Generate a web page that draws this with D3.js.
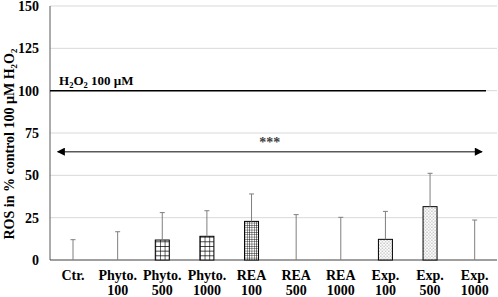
<!DOCTYPE html>
<html>
<head>
<meta charset="utf-8">
<script src="https://cdn.jsdelivr.net/npm/d3@7"></script>
<style>
  body { margin: 0; background: #fff; }
  text { font-family: "Liberation Serif", "Times New Roman", serif; font-weight: bold; }
</style>
</head>
<body>
<div id="chart"></div>
<script>
// data
var labels = ["Ctr.", "Phyto.|100", "Phyto.|500", "Phyto.|1000", "REA|100", "REA|500", "REA|1000", "Exp.|100", "Exp.|500", "Exp.|1000"]
var means = [0, 0, 11.8, 14, 22.8, 0, 0, 12.2, 31.5, 0]
var sds = [12, 16.7, 16.2, 15.1, 16.2, 26.8, 25.2, 16.5, 19.7, 23.6]
var groups = ["ctr", "phyto", "phyto", "phyto", "rea", "rea", "rea", "exp", "exp", "exp"]
var yTicks = [0, 25, 50, 75, 100, 125, 150]
var refValue = 100
var sigLevel = 64

var width = 498, height = 297
var margin = {top: 6, right: 1, bottom: 37, left: 50.7}

var svg = d3.select("#chart").append("svg")
    .attr("width", width)
    .attr("height", height)

var x = d3.scaleBand().domain(labels).range([margin.left, width - margin.right]).padding(0)
var y = d3.scaleLinear().domain([0, 150]).range([height - margin.bottom, margin.top])

var defs = svg.append("defs")
var barW = 14

// gridlines
svg.append("g")
    .selectAll("line")
    .data(yTicks.slice(1))
    .join("line")
    .attr("x1", 50)
    .attr("x2", width - margin.right)
    .attr("y1", d => y(d))
    .attr("y2", d => y(d))
    .attr("stroke", "#d9d9d9")
    .attr("stroke-width", 1)

// y tick labels
svg.append("g")
    .selectAll("text")
    .data(yTicks)
    .join("text")
    .attr("x", 39)
    .attr("y", d => y(d))
    .attr("dy", "0.35em")
    .attr("text-anchor", "end")
    .attr("font-size", "14px")
    .attr("fill", "#000")
    .text(d => d)

// axis lines
svg.append("line")
    .attr("x1", 50).attr("x2", 50)
    .attr("y1", y(150)).attr("y2", y(0))
    .attr("stroke", "#595959")
svg.append("line")
    .attr("x1", 50).attr("x2", width - margin.right)
    .attr("y1", y(0)).attr("y2", y(0))
    .attr("stroke", "#404040")

// 100 uM reference line
svg.append("line")
    .attr("x1", 50).attr("x2", 486)
    .attr("y1", y(refValue)).attr("y2", y(refValue))
    .attr("stroke", "#000")
    .attr("stroke-width", 1.5)

var refLabel = svg.append("text")
    .attr("x", 59)
    .attr("y", y(refValue) - 6)
    .attr("font-size", "13px")
refLabel.append("tspan").text("H")
refLabel.append("tspan").attr("font-size", "8.5px").attr("dy", 3).text("2")
refLabel.append("tspan").attr("dy", -3).text("O")
refLabel.append("tspan").attr("font-size", "8.5px").attr("dy", 3).text("2")
refLabel.append("tspan").attr("dy", -3).text(" 100 \u00b5M")

// patterns, one per bar so they line up with the bar edges
function makePattern(i) {
    var g = groups[i]
    var bx = x(labels[i]) + x.bandwidth() / 2 - barW / 2
    var id = "pat" + i
    if (g == "phyto") {
        var s = barW / 3
        var p = defs.append("pattern").attr("id", id)
            .attr("patternUnits", "userSpaceOnUse")
            .attr("x", bx).attr("y", y(0))
            .attr("width", s).attr("height", s)
        p.append("rect").attr("width", s).attr("height", s).attr("fill", "#fff")
        p.append("path").attr("d", "M0,0H" + s + "M0,0V" + s)
            .attr("stroke", "#000").attr("stroke-width", 1.2)
    } else if (g == "rea") {
        var s2 = barW / 6
        var p2 = defs.append("pattern").attr("id", id)
            .attr("patternUnits", "userSpaceOnUse")
            .attr("x", bx).attr("y", y(0))
            .attr("width", s2).attr("height", s2)
        p2.append("rect").attr("width", s2).attr("height", s2).attr("fill", "#fff")
        p2.append("path").attr("d", "M0,0H" + s2 + "M0,0V" + s2)
            .attr("stroke", "#000").attr("stroke-width", 0.9)
    } else if (g == "exp") {
        var p3 = defs.append("pattern").attr("id", id)
            .attr("patternUnits", "userSpaceOnUse")
            .attr("x", bx).attr("y", y(0))
            .attr("width", 3.2).attr("height", 3.2)
        p3.append("rect").attr("width", 3.2).attr("height", 3.2).attr("fill", "#fff")
        p3.append("circle").attr("cx", 0.8).attr("cy", 0.8).attr("r", 0.5).attr("fill", "#555")
        p3.append("circle").attr("cx", 2.4).attr("cy", 2.4).attr("r", 0.5).attr("fill", "#555")
    } else {
        return "#fff"
    }
    return "url(#" + id + ")"
}

// bars
svg.append("g")
    .selectAll("rect")
    .data(labels)
    .join("rect")
    .filter((d, i) => means[i] > 0)
    .attr("x", d => x(d) + x.bandwidth() / 2 - barW / 2)
    .attr("y", d => y(means[labels.indexOf(d)]))
    .attr("width", barW)
    .attr("height", d => y(0) - y(means[labels.indexOf(d)]))
    .attr("fill", d => makePattern(labels.indexOf(d)))
    .attr("stroke", "#000")
    .attr("stroke-width", 1)

// error bars
var err = svg.append("g")
labels.forEach(function(d, i) {
    var cx = x(d) + x.bandwidth() / 2
    err.append("line")
        .attr("x1", cx).attr("x2", cx)
        .attr("y1", y(means[i])).attr("y2", y(means[i] + sds[i]))
        .attr("stroke", "#7f7f7f").attr("stroke-width", 1)
    err.append("line")
        .attr("x1", cx - 2.5).attr("x2", cx + 2.5)
        .attr("y1", y(means[i] + sds[i])).attr("y2", y(means[i] + sds[i]))
        .attr("stroke", "#7f7f7f").attr("stroke-width", 1)
})

// x labels (two lines)
var xl = svg.append("g")
labels.forEach(function(d) {
    var parts = d.split("|")
    var t = xl.append("text")
        .attr("x", x(d) + x.bandwidth() / 2)
        .attr("y", 280)
        .attr("text-anchor", "middle")
        .attr("font-size", "14px")
    parts.forEach(function(p, k) {
        t.append("tspan")
            .attr("x", x(d) + x.bandwidth() / 2)
            .attr("dy", k == 0 ? 0 : 15)
            .text(p)
    })
})

// significance arrow
defs.append("marker").attr("id", "ahead")
    .attr("viewBox", "0 0 10 10").attr("refX", 9).attr("refY", 5)
    .attr("markerWidth", 9).attr("markerHeight", 8)
    .attr("markerUnits", "userSpaceOnUse")
    .attr("orient", "auto-start-reverse")
    .append("path").attr("d", "M0,0L10,5L0,10Z").attr("fill", "#000")

var x0 = x.range()[0] + 7, x1 = x.range()[1] - 15
svg.append("line")
    .attr("x1", x0).attr("x2", x1)
    .attr("y1", y(sigLevel)).attr("y2", y(sigLevel))
    .attr("stroke", "#595959").attr("stroke-width", 1.5)
    .attr("marker-start", "url(#ahead)")
    .attr("marker-end", "url(#ahead)")

svg.append("text")
    .attr("x", (x0 + x1) / 2)
    .attr("y", y(sigLevel) - 5)
    .attr("text-anchor", "middle")
    .attr("font-size", "14px")
    .attr("fill", "#404040")
    .text("***")

// y axis title
var yt = svg.append("text")
    .attr("transform", "translate(14," + 144 + ") rotate(-90)")
    .attr("text-anchor", "middle")
    .attr("font-size", "14px")
yt.append("tspan").text("ROS in % control 100 \u00b5M H")
yt.append("tspan").attr("font-size", "9px").attr("dy", 3).text("2")
yt.append("tspan").attr("dy", -3).text("O")
yt.append("tspan").attr("font-size", "9px").attr("dy", 3).text("2")
</script>
</body>
</html>
